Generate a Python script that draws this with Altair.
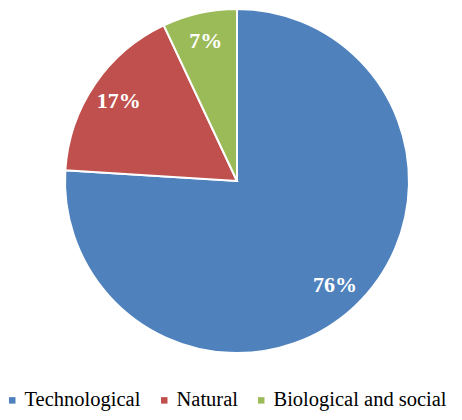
import altair as alt
import pandas as pd

categories = ["Technological", "Natural", "Biological and social"]
values = [76, 17, 7]
colors = ["#4F81BD", "#C0504D", "#9BBB59"]

df = pd.DataFrame({
    "category": categories,
    "value": values,
    "order": list(range(len(categories))),
    "label": [f"{v}%" for v in values],
})

cx, cy, R = 229, 173, 172

base = alt.Chart(df).encode(
    theta=alt.Theta("value:Q", stack=True),
    order=alt.Order("order:Q"),
    x=alt.value(cx),
    y=alt.value(cy),
)

arcs = base.mark_arc(outerRadius=R, stroke="white", strokeWidth=2).encode(
    color=alt.Color(
        "category:N",
        scale=alt.Scale(domain=categories, range=colors),
        legend=alt.Legend(
            title=None,
            orient="none",
            direction="horizontal",
            legendX=-6,
            legendY=382,
            symbolType="square",
            symbolSize=42,
            symbolStrokeWidth=0,
            labelFont="Liberation Serif",
            labelFontSize=20.5,
            labelColor="black",
            labelOffset=2,
            labelLimit=0,
            columnPadding=13,
            padding=0,
        ),
    )
)

labels = base.mark_text(
    radius=143,
    font="Liberation Serif",
    fontSize=22,
    fontWeight="bold",
    color="white",
).encode(text="label:N")

chart = (
    alt.layer(arcs, labels)
    .properties(width=446, height=404, padding=0, autosize=alt.AutoSizeParams(type="none"))
    .configure_view(stroke=None)
)

chart.save("out.html", embed_options={"renderer": "svg", "actions": False})
